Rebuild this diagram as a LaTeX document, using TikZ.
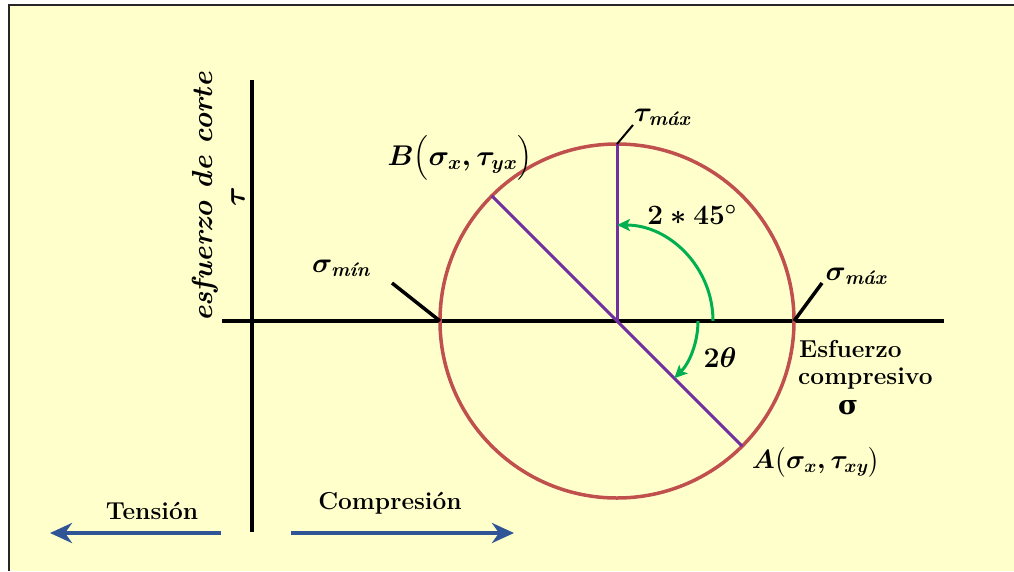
\RequirePackage{fix-cm}
\documentclass[tikz,border=0pt]{standalone}
\usepackage{amsmath}
\usepackage{fontspec}
\newfontfamily\dvserif{DejaVu Serif}
\usetikzlibrary{arrows.meta}
\definecolor{bgy}{HTML}{FFFFCC}
\definecolor{circ}{HTML}{C0504D}
\definecolor{purp}{HTML}{7030A0}
\definecolor{grn}{HTML}{00B050}
\definecolor{blu}{HTML}{2F5597}
\tikzset{
  axisline/.style={line width=4pt, black},
  pointer/.style={line width=3.5pt, black},
  purpline/.style={line width=3pt, purp},
  grnarrow/.style={line width=3pt, grn, -{Stealth[length=13pt,width=12pt,inset=3pt]}},
  bluarrow/.style={line width=4pt, blu, -{Stealth[length=22pt,width=20pt,inset=7pt]}},
  lbl/.style={inner sep=0pt},
  mlbl/.style={inner sep=0pt, font=\fontsize{28}{32}\selectfont\bfseries\boldmath},
}
\begin{document}
\begin{tikzpicture}[x=1pt,y=1pt,font=\fontsize{24.5}{28}\selectfont\bfseries\boldmath]
\useasboundingbox (0,0) rectangle (1014,-571);
\fill[white] (0,0) rectangle (1014,-571);
\fill[bgy] (9,-5) rectangle (1014,-571);
\draw[line width=1.5pt, black!85] (9,-571) -- (9,-5) -- (1014,-5);

% axes
\coordinate (ytop) at (252,-80);
\coordinate (ybot) at (252,-532);
\coordinate (xl) at (222,-321);
\coordinate (xr) at (944,-321);
\draw[axisline] (ytop) -- (ybot);
\draw[axisline] (xl) -- (xr);

% Mohr circle
\coordinate (O) at (617,-321);
\node[circle, draw=circ, line width=3.5pt, minimum size=354pt, inner sep=0pt, outer sep=0pt] (C) at (O) {};

% purple lines
\draw[purpline] (O) -- (C.north);
\draw[purpline] (C.135) -- (C.-45);

% green arcs
\draw[grnarrow] ([shift={(0:96)}]O) arc[start angle=0, end angle=90, radius=96];
\draw[grnarrow] ([shift={(0:81)}]O) arc[start angle=0, end angle=-45, radius=81];

% pointers
\coordinate (pmin) at (392,-283);
\coordinate (pmax) at (822,-283);
\coordinate (ptau) at (633,-125);
\draw[pointer] (C.west) -- (pmin);
\draw[pointer] (C.east) -- (pmax);
\draw[line width=2pt] (C.north) -- (ptau);

% labels
\node[mlbl] (ltau) at (662,-117) {$\tau_{\textit{máx}}$};
\node[mlbl] (lmin) at (341,-268) {$\sigma_{\textit{mín}}$};
\node[mlbl] (lmax) at (856,-276) {$\sigma_{\textit{máx}}$};
\node[mlbl, font=\fontsize{28.5}{32}\selectfont\bfseries\boldmath] (lB) at (460,-158) {$B\bigl(\sigma_{x},\tau_{yx}\bigr)$};
\node[lbl, font=\fontsize{26.5}{30}\selectfont\bfseries\boldmath] (lA) at (816,-462) {$A\bigl(\sigma_{x},\tau_{xy}\bigr)$};
\node[mlbl] (l45) at (692,-215) {$2*45^{\circ}$};
\node[mlbl, font=\fontsize{28.5}{32}\selectfont\bfseries\boldmath] (l2t) at (720,-358) {$2\theta$};
\node[lbl, anchor=west] (le1) at (799,-349) {Esfuerzo};
\node[lbl, anchor=west] (le2) at (798,-379) {compresivo};
\node[lbl, font=\fontsize{27}{30}\selectfont\bfseries] (le3) at (848,-408) {\dvserif σ};

% vertical axis label
\node[lbl, rotate=90, font=\fontsize{29}{33}\selectfont\bfseries] (ylab) at (205,-197) {\itshape esfuerzo de corte};
\node[lbl, rotate=90, font=\fontsize{30}{33}\selectfont\bfseries\boldmath] (ytau) at (238,-197) {$\tau$};

% tension / compression
\coordinate (t1) at (221,-533);
\coordinate (t2) at (50,-533);
\coordinate (c1) at (291,-533);
\coordinate (c2) at (514,-533);
\draw[bluarrow] (t1) -- (t2);
\draw[bluarrow] (c1) -- (c2);
\node[lbl] (ltens) at (152,-511) {Tensión};
\node[lbl] (lcomp) at (390,-503) {Compresión};
\end{tikzpicture}
\end{document}
